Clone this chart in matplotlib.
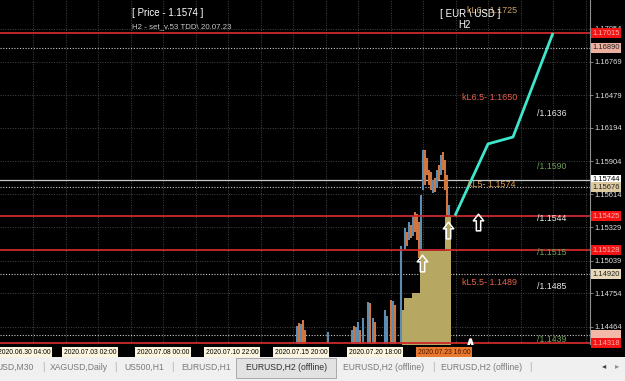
import matplotlib.pyplot as plt
import matplotlib.transforms as mtransforms
from matplotlib.path import Path
from matplotlib.patches import Rectangle
import numpy as np

plt.rcParams['font.family'] = ['Liberation Sans', 'DejaVu Sans']

# --- data -------------------------------------------------------------
# H2 bars, x = bar index (chart shows about 2 px per bar)
bar_x = [148.5, 149.5, 150.5, 151.5, 152.5, 164, 176, 177, 178, 179, 180, 181.5,
         184, 185, 186.5, 187.5, 192.5, 193.5, 195.5, 196.5, 197.5, 200.5,
         202.5, 203.5, 204.5, 205.5, 206.5, 207.5, 208.5, 209.5, 210.5, 211.5,
         212.5, 213.5, 214.5, 215.5, 216.5, 217.5, 218.5, 219.5, 220.5, 221.5,
         222.5, 223.5, 224.5]
bar_high = [1.14470, 1.14500, 1.14490, 1.14522, 1.14435, 1.14418, 1.14435, 1.14470,
            1.14460, 1.14505, 1.14435, 1.14540, 1.14679, 1.14670, 1.14540, 1.14505,
            1.14609, 1.14560, 1.14696, 1.14690, 1.14653, 1.15165,
            1.15323, 1.15288, 1.15375, 1.15349, 1.15427, 1.15462, 1.15445, 1.15375,
            1.15610, 1.16001, 1.16001, 1.15932, 1.15827, 1.15810, 1.15740, 1.15758,
            1.15827, 1.15871, 1.15958, 1.15984, 1.15914, 1.15784, 1.15523]
bar_low = [1.1420] * 22 + [
    1.15131, 1.15166, 1.15218, 1.15236, 1.15253, 1.15288, 1.15218, 1.15062,
    1.15131, 1.15653, 1.15697, 1.15784, 1.15697, 1.15653, 1.15627, 1.15636,
    1.15671, 1.15740, 1.15784, 1.15827, 1.15653, 1.15436, 1.15419]
bar_up = [1, 0, 1, 0, 0, 1, 1, 0, 1, 1, 0, 1, 1, 0, 1, 0, 1, 1, 0, 1, 0, 1,
          1, 0, 1, 0, 1, 0, 0, 0, 1, 1, 0, 0, 0, 0, 1, 0, 1, 0, 1, 0, 0, 0, 1]

# khaki histogram area
area_x = [201, 202, 206, 210, 222.5, 225.5]
area_top = [1.14609, 1.14714, 1.14757, 1.15120, 1.15419, 1.15419]

# forecast path (cyan)
path_x = [227.5, 244, 256.5, 276.5]
path_y = [1.15430, 1.16054, 1.16114, 1.17019]

# signal arrows
arrow_x = [211, 224, 239]
arrow_y = [1.15018, 1.15305, 1.15375]

red_levels = [1.17015, 1.15425, 1.15128, 1.14318]
dotted_levels = [1.16890, 1.15676, 1.14920, 1.14390]
solid_level = 1.15744

price_ticks = [1.17054, 1.16769, 1.16479, 1.16194, 1.15904, 1.15614,
               1.15329, 1.15039, 1.14754, 1.14464]
# boxed price marks on the right scale
box_prices = [1.17015, 1.16890, 1.15744, 1.15676, 1.15425, 1.15128, 1.14920, 1.14392, 1.14318]
box_colors = ['#f01414', '#eeb0a0', '#ffffff', '#dcc9a0', '#f01414', '#f01414',
              '#e6d8b8', '#f2b8a8', '#f01414']
box_text_colors = ['#ffb0b0', '#202020', '#000000', '#202020', '#ffb0b0', '#ffb0b0',
                   '#202020', '#f2b8a8', '#ffb0b0']

level_texts = ['/1.1636', '/1.1590', '/1.1544', '/1.1515', '/1.1485', '/1.1439']
level_vals = [1.1636, 1.1590, 1.1544, 1.1515, 1.1485, 1.1439]
level_cols = ['#e8e8e8', '#6fa05a', '#e8e8e8', '#6fa05a', '#e8e8e8', '#6fa05a']

kl_texts = ['kL6.- 1.1725', 'kL6.5- 1.1650', 'kL5- 1.1574', 'kL5.5- 1.1489']
kl_vals = [1.1725, 1.1650, 1.1574, 1.1489]
kl_x = [233.5, 231, 234, 231]
kl_cols = ['#c9a064', '#e8604a', '#e0a050', '#e8604a']

date_labels = ['2020.06.30 04:00', '2020.07.03 02:00', '2020.07.08 00:00',
               '2020.07.10 22:00', '2020.07.15 20:00', '2020.07.20 18:00',
               '2020.07.23 16:00']
date_pos = [-1, 32, 68.5, 103, 137.5, 174.5, 209]

tabs = ['USD,M30', 'XAGUSD,Daily', 'US500,H1', 'EURUSD,H1',
        'EURUSD,H2 (offline)', 'EURUSD,H2 (offline)', 'EURUSD,H2 (offline)']
tab_x = [-4, 50, 124, 181, 246, 343, 441]

# --- figure -----------------------------------------------------------
W, H = 625, 381
fig = plt.figure(figsize=(6.25, 3.81), dpi=100, facecolor='black')
ax = fig.add_axes([0, 1 - 344 / H, 590 / W, 344 / H], facecolor='black')
ax.set_xlim(0, 295)
ax.set_ylim(1.14313, 1.17306)

# grid
ax.set_xticks(np.arange(16.5, 295, 16.25))
ax.set_yticks(price_ticks)
ax.grid(True, color='#444444', linestyle=(0, (1, 1.5)), linewidth=0.7)
ax.tick_params(axis='x', length=0, labelbottom=False)
ax.yaxis.tick_right()
ax.tick_params(axis='y', colors='#909090', length=2, width=0.6, labelsize=5.4,
               labelcolor='#e0e0e0', pad=1)
for s in ['top', 'left', 'bottom']:
    ax.spines[s].set_visible(False)
ax.spines['right'].set_color('#909090')
ax.spines['right'].set_linewidth(0.8)

# levels
for lv in dotted_levels:
    ax.axhline(lv, color='#c8c8c8', linestyle=(0, (1, 1.5)), linewidth=0.8, zorder=2)
ax.axhline(solid_level, color='#c8c8c8', linewidth=0.9, zorder=2)

# khaki area
ax.fill_between(area_x, area_top, 1.1420, step='post', color='#b6a863', zorder=3, linewidth=0)

# bars
cols = ['#5d8db2' if u else '#d2763e' for u in bar_up]
ax.vlines(bar_x, bar_low, bar_high, colors=cols, linewidth=1.5, zorder=4)

for lv in red_levels:
    ax.axhline(lv, color='#cc2a2a', linewidth=1.3, zorder=5)

# cyan path
ax.plot(path_x, path_y, color='#3ee6cc', linewidth=2, zorder=6, solid_capstyle='butt')

# arrows
arrow = Path([(0, 1), (0.62, 0.2), (0.26, 0.2), (0.26, -1), (-0.26, -1),
              (-0.26, 0.2), (-0.62, 0.2), (0, 1)],
             [Path.MOVETO] + [Path.LINETO] * 6 + [Path.CLOSEPOLY])
ax.plot(arrow_x, arrow_y, linestyle='none', marker=arrow, markersize=12,
        markerfacecolor='none', markeredgecolor='white', markeredgewidth=1.1, zorder=7)
ax.plot([235], [1.14330], linestyle='none', marker=r'$\wedge$', markersize=5,
        color='white', zorder=7)

# texts in chart
for t, v, c in zip(level_texts, level_vals, level_cols):
    ax.text(268.5, v, t, color=c, fontsize=6.3, va='top', ha='left', zorder=8)
for t, v, x, c in zip(kl_texts, kl_vals, kl_x, kl_cols):
    ax.text(x, v, t, color=c, fontsize=6.5, va='top', ha='left', zorder=8)

# boxed price marks
for p, fc, tc in zip(box_prices, box_colors, box_text_colors):
    ax.text(1.004, p, f'{p:.5f}', transform=mtransforms.blended_transform_factory(ax.transAxes, ax.transData),
            fontsize=5.4, color=tc, va='center', ha='left', clip_on=False, zorder=10,
            bbox=dict(boxstyle='square,pad=0.2', fc=fc, ec='none'))

# date labels
trans = mtransforms.blended_transform_factory(ax.transData, ax.transAxes)
for i, (lab, pos) in enumerate(zip(date_labels, date_pos)):
    last = i == len(date_labels) - 1
    ax.text(pos, -0.024, lab, transform=trans, fontsize=4.9,
            color='#4a1400' if last else '#000000', ha='left', va='center', clip_on=False,
            bbox=dict(boxstyle='square,pad=0.25', fc='#e8782e' if last else '#fdf6df', ec='none'))

# header texts
fig.text(132 / W, 1 - 13 / H, '[ Price - 1.1574 ]', color='white', fontsize=7, va='center')
fig.text(132 / W, 1 - 27 / H, 'H2 - set_v.53 TDD\\ 20.07.23', color='#c8c8c8', fontsize=5.7, va='center')
fig.text(470 / W, 1 - 14 / H, '[ EUR \\ USD ]', color='white', fontsize=7, va='center', ha='center')
fig.text(464 / W, 1 - 25 / H, 'H2', color='white', fontsize=7, va='center', ha='center')

# tab bar
fig.patches.append(Rectangle((0, 0), 1, 24 / H, transform=fig.transFigure,
                             fc='#f0f0f0', ec='none', zorder=0))
fig.patches.append(Rectangle((236 / W, 3 / H), 100 / W, 20 / H, transform=fig.transFigure,
                             fc='#e2e2e2', ec='#a0a0a0', lw=0.6, zorder=1))
for t, x in zip(tabs, tab_x):
    fig.text(x / W, 1 - 367 / H, t, color='#7a7a7a' if x != 246 else '#303030',
             fontsize=6.2, va='center', ha='left')
for sx in [43, 115, 172, 433, 530]:
    fig.text(sx / W, 1 - 367 / H, '|', color='#b0b0b0', fontsize=7, va='center', ha='center')
fig.text(604 / W, 1 - 367 / H, '\u25c2', color='#404040', fontsize=6, va='center', ha='center')
fig.text(617 / W, 1 - 367 / H, '\u25b8', color='#909090', fontsize=6, va='center', ha='center')

fig.savefig('out.png', dpi=100, facecolor='black')
